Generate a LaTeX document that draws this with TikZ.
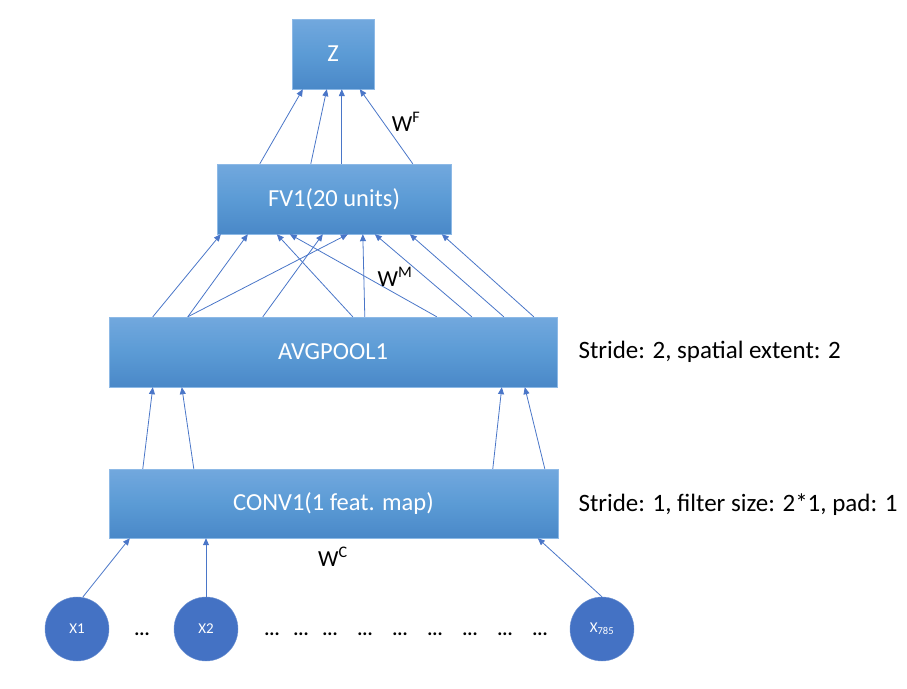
\documentclass[tikz,border=0pt]{standalone}
\usepackage{fontspec}
\setmainfont{Carlito}
\usetikzlibrary{arrows.meta,calc}
\definecolor{boxtop}{HTML}{72A8DE}
\definecolor{boxmid}{HTML}{5B9BD5}
\definecolor{boxbot}{HTML}{4A88C8}
\definecolor{boxline}{HTML}{8DB9E6}
\definecolor{unitblue}{HTML}{4472C4}
\definecolor{wirecol}{HTML}{4A76C8}
\tikzset{
  layer/.style={draw=boxline, top color=boxtop, bottom color=boxbot, middle color=boxmid,
    text=white, inner sep=0pt, font=\fontsize{24.5}{28}\selectfont},
  unit/.style={circle, draw=unitblue!75!white, fill=unitblue, minimum size=64pt,
    inner sep=0pt, text=white, font=\fontsize{15}{17}\selectfont},
  wire/.style={draw=wirecol, line width=0.8pt, -{Triangle[length=7pt,width=6pt]}},
  wlabel/.style={font=\fontsize{23}{27}\selectfont},
  note/.style={anchor=west, font=\fontsize{25}{29}\selectfont}
}
\begin{document}
\begin{tikzpicture}[x=1pt,y=-1pt]
\useasboundingbox (0,0) rectangle (907,688);
% layers
\node[layer, minimum width=82pt, minimum height=70pt] (z) at (333,54) {Z};
\node[layer, minimum width=234pt, minimum height=70pt] (fv) at (334,199) {FV1(20 units)};
\node[layer, minimum width=448pt, minimum height=70pt] (avg) at (333,352) {AVGPOOL1};
\node[layer, minimum width=449pt, minimum height=69pt] (conv) at (333.5,503.5) {CONV1(1 feat. map)};
% inputs
\node[unit] (x1) at (77,629) {X1};
\node[unit] (x2) at (206,629) {X2};
\node[unit] (x785) at (602,629) {X\textsubscript{785}};
\foreach \x [count=\i] in {142,272,301,330,365,400,435,470,505,540}
  \node[font=\bfseries\fontsize{19}{21}\selectfont] (dots\i) at (\x,634) {...};
% connections
\draw[wire] ([xshift=6]x1.north) -- ([xshift=21]conv.south west);
\draw[wire] (x2.north) -- (x2.north |- conv.south);
\draw[wire] (x785.north) -- ([xshift=429]conv.south west);
\foreach \a/\b in {34/44,85/73,384/393,436/416}
  \draw[wire] ([xshift=\a]conv.north west) -- ([xshift=\b]avg.south west);
\foreach \a/\b in {44/4,79/31,79/131,154/106,244/60,328/73,256/146,363/158,395/193,425/225}
  \draw[wire] ([xshift=\a]avg.north west) -- ([xshift=\b]fv.south west);
\foreach \a/\b in {43/11,94/35,125/50,196/68}
  \draw[wire] ([xshift=\a]fv.north west) -- ([xshift=\b]z.south west);
% weights and notes
\node[wlabel] (wf) at (406,122) {W\textsuperscript{F}};
\node[wlabel] (wm) at (395,277) {W\textsuperscript{M}};
\node[wlabel] (wc) at (333,557) {W\textsuperscript{C}};
\node[note] (poolnote) at (575,352) {Stride: 2, spatial extent: 2};
\node[note] (convnote) at (575,505) {Stride: 1, filter size: 2*1, pad: 1};
\end{tikzpicture}
\end{document}
